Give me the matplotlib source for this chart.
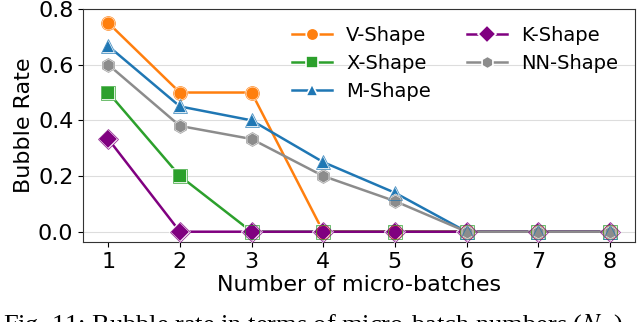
import matplotlib
matplotlib.use("Agg")
import matplotlib.pyplot as plt

# data
micro_batches = [1, 2, 3, 4, 5, 6, 7, 8]
v_shape = [0.75, 0.5, 0.5, 0.0, 0.0, 0.0, 0.0, 0.0]
x_shape = [0.5, 0.2, 0.0, 0.0, 0.0, 0.0, 0.0, 0.0]
m_shape = [0.667, 0.45, 0.4, 0.25, 0.14, 0.0, 0.0, 0.0]
k_shape = [0.333, 0.0, 0.0, 0.0, 0.0, 0.0, 0.0, 0.0]
nn_shape = [0.6, 0.38, 0.333, 0.2, 0.11, 0.0, 0.0, 0.0]

series = [
    ("V-Shape", v_shape, "#ff7f0e", "o"),
    ("X-Shape", x_shape, "#2ca02c", "s"),
    ("M-Shape", m_shape, "#1f77b4", "^"),
    ("K-Shape", k_shape, "#800080", "D"),
    ("NN-Shape", nn_shape, "#8c8c8c", "h"),
]

fig = plt.figure(figsize=(6.4, 3.22), dpi=100)
ax = fig.add_axes([0.13, 0.248, 0.862, 0.724])

for name, vals, col, mk in series:
    ax.plot(micro_batches, vals, color=col, lw=1.8, marker=mk, ms=10,
            mfc=col, mec="white", mew=1.2, label=name, zorder=3)
    # outer ring for the double-edge look
    ax.plot(micro_batches, vals, ls="none", marker=mk, ms=10,
            mfc="none", mec=col, mew=0.6, alpha=0.8, zorder=4)

ax.set_ylim(-0.0375, 0.8)
ax.set_yticks([0.0, 0.2, 0.4, 0.6, 0.8])
ax.set_xticks(micro_batches)
ax.tick_params(labelsize=16)
ax.grid(axis="y", color="#dddddd", lw=0.8)
ax.set_axisbelow(True)
for s in ax.spines.values():
    s.set_color("#333333")
ax.set_xlabel("Number of micro-batches", fontsize=16, labelpad=2)
ax.set_ylabel("Bubble Rate", fontsize=16, labelpad=3)
ax.legend(ncol=2, loc="upper right", frameon=False, fontsize=14,
          handlelength=2.05, handletextpad=0.75, columnspacing=1.85,
          labelspacing=0.48, borderaxespad=0.45, markerscale=0.9)

fig.text(0.004, 0.031, "Fig. 11: Bubble rate in terms of micro-batch numbers ($N_m$)",
         family="Liberation Serif", fontsize=19, va="top", ha="left",
         math_fontfamily="stix")

fig.savefig("out.png", dpi=100)
